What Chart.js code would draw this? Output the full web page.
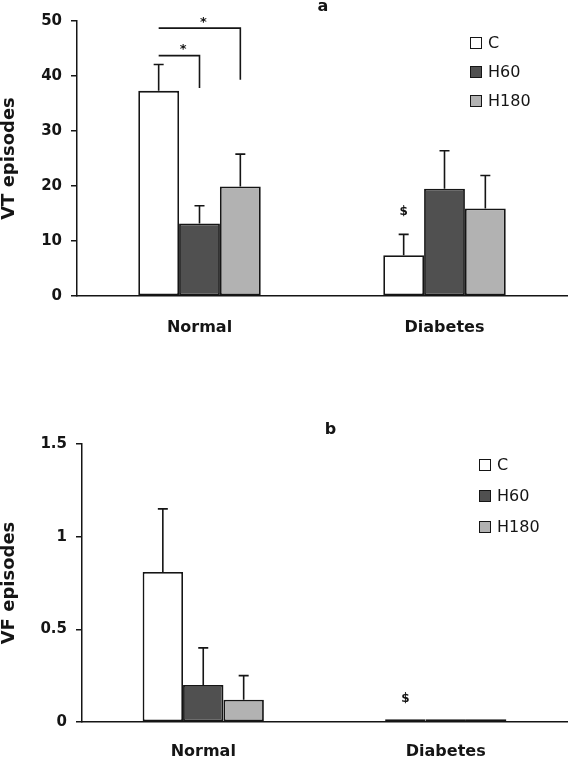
<!DOCTYPE html>
<html>
<head>
<meta charset="utf-8">
<script src="https://cdn.jsdelivr.net/npm/chart.js@4.4.1/dist/chart.umd.min.js"></script>
<style>
    html, body { margin: 0; padding: 0; background: #fff; }
    .panel { position: absolute; left: 0; width: 569px; }
    #panel-vt { top: 0; height: 345px; }
    #panel-vf { top: 400px; height: 362px; }
</style>
</head>
<body>
<div class="panel" id="panel-vt"><canvas id="chart-vt"></canvas></div>
<div class="panel" id="panel-vf"><canvas id="chart-vf"></canvas></div>
<script>
// categories and series
const groups = ['Normal', 'Diabetes'];
const seriesNames = ['C', 'H60', 'H180'];
const seriesColors = ['#ffffff', '#505050', '#b2b2b2'];

// panel a: VT episodes (mean, SEM)
const vtC = [37.3, 7.4];
const vtH60 = [13.2, 19.5];
const vtH180 = [19.9, 15.9];
const vtErrC = [4.8, 3.8];
const vtErrH60 = [3.2, 6.9];
const vtErrH180 = [5.9, 6.0];
const vtTicks = [0, 10, 20, 30, 40, 50];
// [group, from series, to series, bracket level, right leg end]
const vtBrackets = [[0, 0, 1, 43.7, 37.8], [0, 0, 2, 48.7, 39.3]];
// [group, series, value, text]
const vtMarks = [[1, 0, 15.3, '$']];

// panel b: VF episodes (mean, SEM); diabetic groups are ~0
const vfC = [0.81, 0.015];
const vfH60 = [0.20, 0.015];
const vfH180 = [0.12, 0.015];
const vfErrC = [0.34, 0];
const vfErrH60 = [0.20, 0];
const vfErrH180 = [0.13, 0];
const vfTicks = [0, 0.5, 1, 1.5];
const vfBrackets = [];
const vfMarks = [[1, 0, 0.125, '$']];

const FONT = "'DejaVu Sans', sans-serif";
const INK = '#151515';

// error bars, brackets, marks, legend and panel letter
const annotPlugin = {
    id: 'annot',
    afterDatasetsDraw(chart, args, opts) {
        const ctx = chart.ctx;
        const yScale = chart.scales.y;
        const area = chart.chartArea;
        ctx.save();
        ctx.strokeStyle = INK;
        ctx.fillStyle = INK;
        ctx.lineWidth = 1.6;

        chart.data.datasets.forEach((ds, i) => {
            const meta = chart.getDatasetMeta(i);
            ds.errors.forEach((e, j) => {
                if (!e) return;
                const bar = meta.data[j];
                const top = yScale.getPixelForValue(ds.data[j] + e);
                ctx.beginPath();
                ctx.moveTo(bar.x, bar.y);
                ctx.lineTo(bar.x, top);
                ctx.moveTo(bar.x - 5, top);
                ctx.lineTo(bar.x + 5, top);
                ctx.stroke();
            });
        });

        ctx.font = 'bold 13px ' + FONT;
        ctx.textAlign = 'center';
        ctx.textBaseline = 'alphabetic';
        opts.brackets.forEach(([g, a, b, level, end]) => {
            const x1 = chart.getDatasetMeta(a).data[g].x;
            const x2 = chart.getDatasetMeta(b).data[g].x;
            const yl = yScale.getPixelForValue(level);
            ctx.beginPath();
            ctx.moveTo(x1, yl);
            ctx.lineTo(x2, yl);
            ctx.lineTo(x2, yScale.getPixelForValue(end));
            ctx.stroke();
            ctx.fillText('*', (x1 + x2) / 2 + 4, yl - 2.5);
        });

        ctx.font = 'bold 12px ' + FONT;
        ctx.textBaseline = 'middle';
        opts.marks.forEach(([g, s, v, text]) => {
            const x = chart.getDatasetMeta(s).data[g].x;
            ctx.fillText(text, x, yScale.getPixelForValue(v));
        });

        const lg = opts.legend;
        ctx.font = '16px ' + FONT;
        ctx.textAlign = 'left';
        ctx.lineWidth = 1;
        chart.data.datasets.forEach((ds, i) => {
            const cy = lg.y + i * lg.step;
            ctx.fillStyle = ds.backgroundColor;
            ctx.fillRect(lg.x, cy - 6, 12, 12);
            ctx.strokeRect(lg.x + 0.5, cy - 5.5, 11, 11);
            ctx.fillStyle = INK;
            ctx.fillText(ds.label, lg.x + 18, cy + 1);
        });

        ctx.font = 'bold 16px ' + FONT;
        ctx.textAlign = 'center';
        ctx.textBaseline = 'alphabetic';
        ctx.fillText(opts.title.text, (area.left + area.right) / 2 + opts.title.dx, opts.title.y);
        ctx.restore();
    }
};

function buildDatasets(values, errors) {
    return seriesNames.map((name, i) => ({
        label: name,
        data: values[i],
        errors: errors[i],
        backgroundColor: seriesColors[i],
        borderColor: INK,
        borderWidth: 1.8,
        borderSkipped: false,
        categoryPercentage: 0.5,
        barPercentage: 1.0
    }));
}

function makeChart(id, cfg) {
    return new Chart(document.getElementById(id).getContext('2d'), {
        type: 'bar',
        data: { labels: groups, datasets: buildDatasets(cfg.values, cfg.errors) },
        options: {
            responsive: true,
            maintainAspectRatio: false,
            animation: false,
            layout: { padding: { top: cfg.padTop, right: 2, left: 0, bottom: 0 } },
            plugins: {
                legend: { display: false },
                tooltip: { enabled: false },
                annot: {
                    brackets: cfg.brackets,
                    marks: cfg.marks,
                    legend: cfg.legend,
                    title: cfg.title
                }
            },
            scales: {
                x: {
                    grid: { display: false, drawTicks: false },
                    border: { display: true, color: INK, width: 1.5 },
                    ticks: { color: INK, padding: cfg.xPad, font: { family: FONT, size: 16, weight: 'bold' } },
                    afterFit: (s) => { s.height = cfg.xHeight; }
                },
                y: {
                    min: 0,
                    max: cfg.ticks[cfg.ticks.length - 1],
                    afterBuildTicks: (s) => { s.ticks = cfg.ticks.map(v => ({ value: v })); },
                    grid: { display: true, drawOnChartArea: false, tickLength: 6, color: INK, lineWidth: 1.5 },
                    border: { display: true, color: INK, width: 1.5 },
                    ticks: {
                        color: INK,
                        padding: 9,
                        font: { family: FONT, size: 15, weight: 'bold' },
                        callback: (v) => String(v)
                    },
                    title: {
                        display: true,
                        text: cfg.yTitle,
                        color: INK,
                        padding: 0,
                        font: { family: FONT, size: 18, weight: 'bold', lineHeight: 1 }
                    },
                    afterFit: (s) => { s.width = cfg.yWidth; }
                }
            }
        },
        plugins: [annotPlugin]
    });
}

makeChart('chart-vt', {
    values: [vtC, vtH60, vtH180],
    errors: [vtErrC, vtErrH60, vtErrH180],
    ticks: vtTicks,
    brackets: vtBrackets,
    marks: vtMarks,
    yTitle: 'VT episodes',
    padTop: 21,
    xHeight: 49,
    xPad: 22,
    yWidth: 77,
    legend: { x: 470, y: 43, step: 29 },
    title: { text: 'a', dx: 1, y: 11 }
});

makeChart('chart-vf', {
    values: [vfC, vfH60, vfH180],
    errors: [vfErrC, vfErrH60, vfErrH180],
    ticks: vfTicks,
    brackets: vfBrackets,
    marks: vfMarks,
    yTitle: 'VF episodes',
    padTop: 44,
    xHeight: 40,
    xPad: 20,
    yWidth: 82,
    legend: { x: 479, y: 65, step: 31 },
    title: { text: 'b', dx: 6, y: 34 }
});
</script>
</body>
</html>
